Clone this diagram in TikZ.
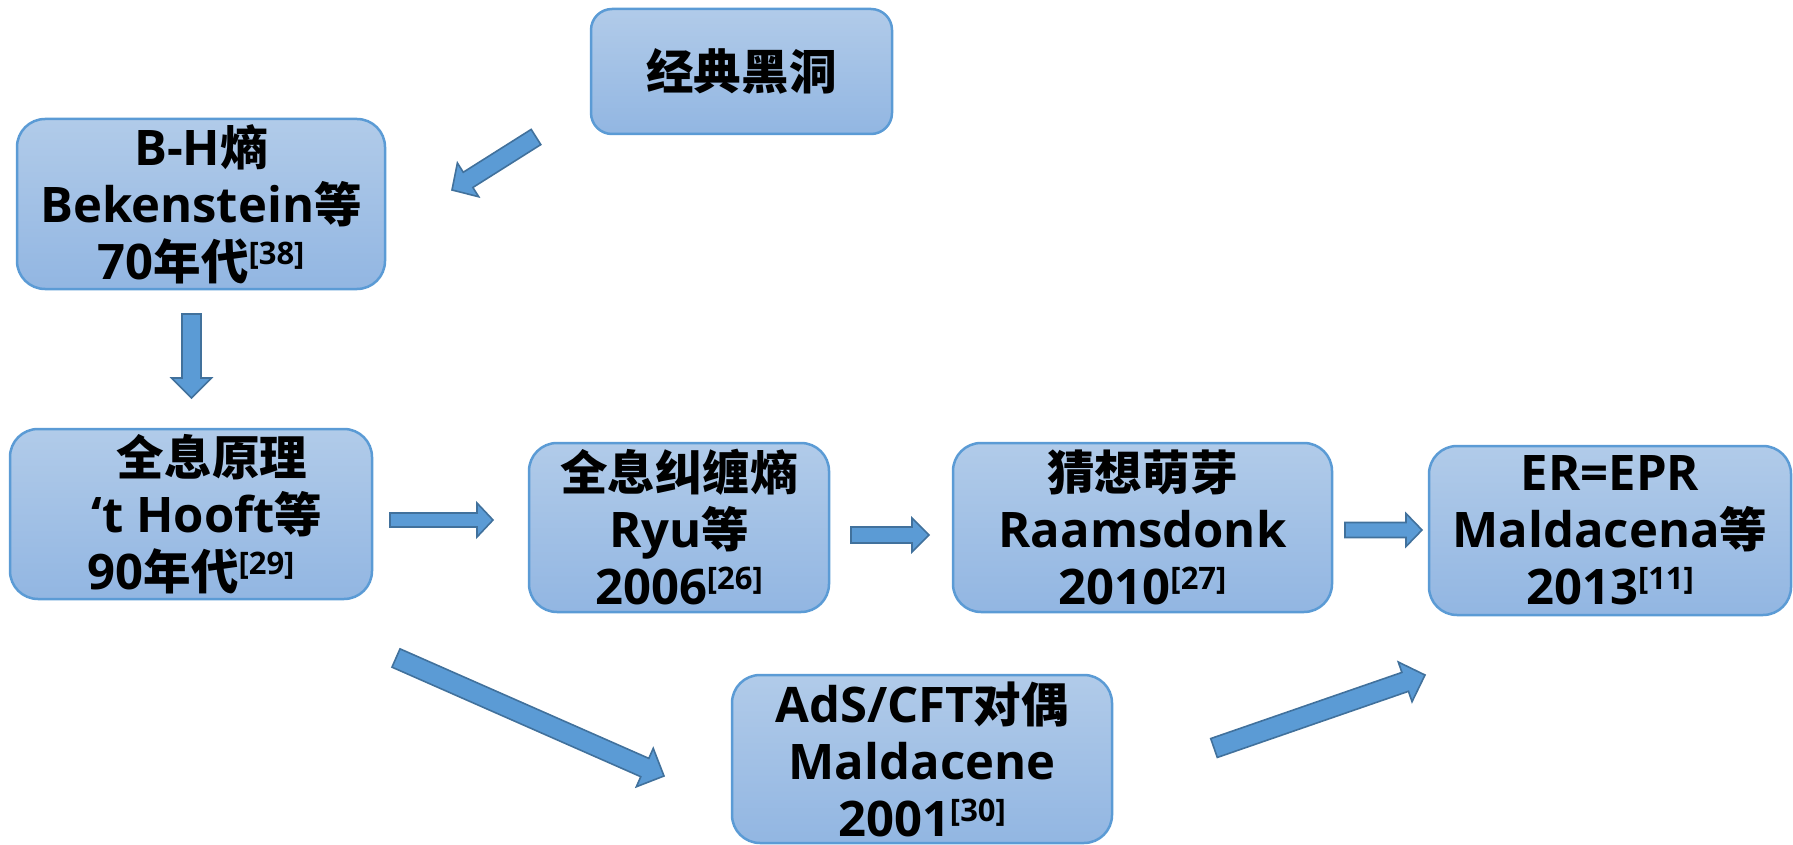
\documentclass[tikz,border=0pt]{standalone}
\usepackage{fontspec}
\setmainfont{Open Sans}
\newfontfamily\cjk{Noto Sans CJK SC}[Scale=0.97]
\usetikzlibrary{calc}
\definecolor{boxtop}{HTML}{B1CBE9}
\definecolor{boxbot}{HTML}{92B6E2}
\definecolor{boxline}{HTML}{5B9BD5}
\definecolor{arrfill}{HTML}{5B9BD5}
\definecolor{arrline}{HTML}{41719C}
\newcommand{\zh}[1]{{\cjk\bfseries #1}}
\newcommand{\refmark}[1]{\raisebox{15pt}{\fontsize{31}{31}\selectfont[#1]}}
\newcommand{\blockarrow}[5]{%
  \coordinate (tmpH) at ($(#2)!#5!(#1)$);
  \draw[barrow] ($(#1)!#3!90:(#2)$) -- ($(tmpH)!#3!90:(#2)$) -- ($(tmpH)!#4!90:(#2)$) -- (#2)
    -- ($(tmpH)!#4!-90:(#2)$) -- ($(tmpH)!#3!-90:(#2)$) -- ($(#1)!#3!-90:(#2)$) -- cycle;
}
\tikzset{
  box/.style={draw=boxline, line width=2.5pt, top color=boxtop, bottom color=boxbot,
    rounded corners=28pt, align=center, inner sep=0pt,
    font=\bfseries\fontsize{49}{57}\selectfont},
  barrow/.style={fill=arrfill, draw=arrline, line width=1.6pt, line join=miter}
}
\begin{document}
\begin{tikzpicture}[x=1pt,y=-1pt]
\useasboundingbox (0,0) rectangle (1793,845);
\node[box, minimum width=301pt, minimum height=125pt, rounded corners=21pt] (hole) at (741.5,71.5) {\zh{经典黑洞}};
\node[box, minimum width=368pt, minimum height=170pt] (bh) at (201,204)
  {B-H\zh{熵}\\Bekenstein\zh{等}\\70\zh{年代}\refmark{38}};
\node[box, minimum width=362pt, minimum height=170pt] (holo) at (191,514)
  {\hspace*{42pt}\zh{全息原理}\\\hspace*{32pt}‘t Hooft\zh{等}\\90\zh{年代}\refmark{29}};
\node[box, minimum width=300pt, minimum height=169pt] (ent) at (679,527.5)
  {\zh{全息纠缠熵}\\Ryu\zh{等}\\2006\refmark{26}};
\node[box, minimum width=379pt, minimum height=169pt] (conj) at (1142.5,527.5)
  {\zh{猜想萌芽}\\Raamsdonk\\2010\refmark{27}};
\node[box, minimum width=362pt, minimum height=169pt] (erepr) at (1610,530.5)
  {ER=EPR\\Maldacena\zh{等}\\2013\refmark{11}};
\node[box, minimum width=380pt, minimum height=168pt] (ads) at (922,759)
  {AdS/CFT\zh{对偶}\\Maldacene\\2001\refmark{30}};
\coordinate (a1s) at (536,137);   \coordinate (a1e) at (452,190);
\coordinate (a2s) at (191.5,314); \coordinate (a2e) at (191.5,398);
\coordinate (a3s) at (390,520);   \coordinate (a3e) at (493,520);
\coordinate (a4s) at (851,535);   \coordinate (a4e) at (929,535);
\coordinate (a5s) at (1345,530);  \coordinate (a5e) at (1422,530);
\coordinate (a6s) at (396,658);   \coordinate (a6e) at (664,776);
\coordinate (a7s) at (1214,748);  \coordinate (a7e) at (1425,675);
\blockarrow{a1s}{a1e}{9pt}{20pt}{19pt}
\blockarrow{a2s}{a2e}{9.5pt}{20pt}{20pt}
\blockarrow{a3s}{a3e}{7pt}{17pt}{16pt}
\blockarrow{a4s}{a4e}{8pt}{17pt}{17pt}
\blockarrow{a5s}{a5e}{7.5pt}{16.5pt}{16pt}
\blockarrow{a6s}{a6e}{10pt}{21pt}{21pt}
\blockarrow{a7s}{a7e}{10pt}{21pt}{21pt}
\end{tikzpicture}
\end{document}
